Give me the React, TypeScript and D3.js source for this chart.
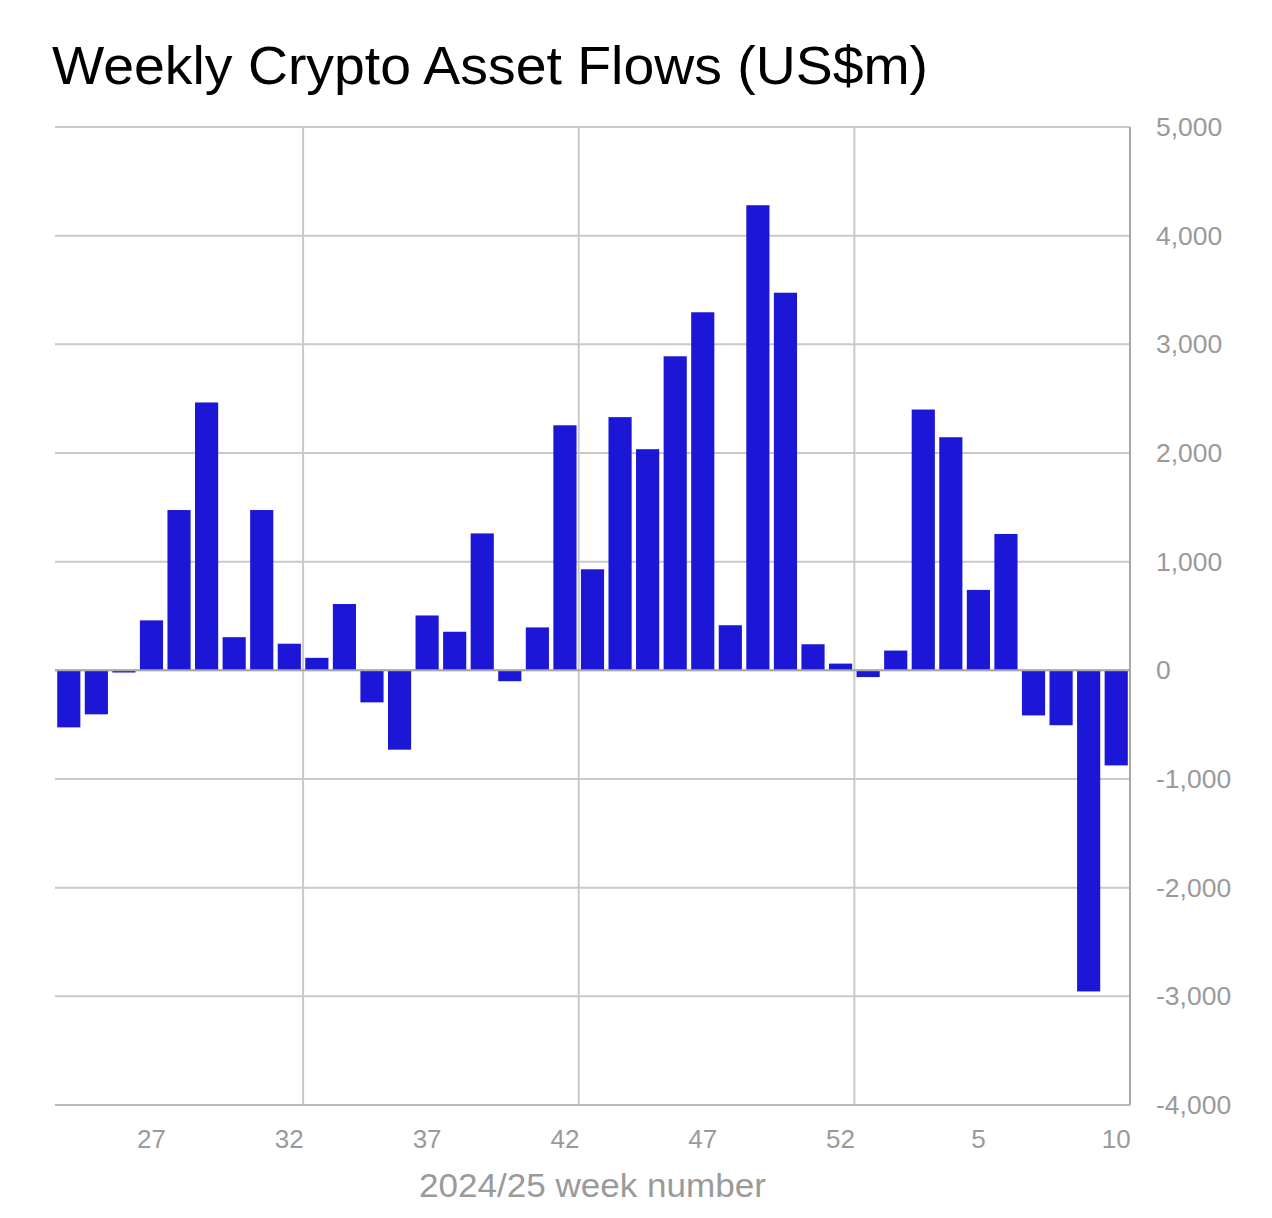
import React from "react";
import * as d3 from "d3";

const weeks: string[] = ["24","25","26","27","28","29","30","31","32","33","34","35","36","37","38","39","40","41","42","43","44","45","46","47","48","49","50","51","52","1","2","3","4","5","6","7","8","9","10"];
const flows: number[] = [-525,-405,-20,460,1475,2465,305,1475,245,115,610,-295,-730,505,355,1260,-100,395,2255,930,2330,2035,2890,3295,415,4280,3475,240,62,-62,182,2400,2145,740,1255,-415,-505,-2955,-875];
const yTicks: number[] = [5000,4000,3000,2000,1000,0,-1000,-2000,-3000,-4000];
const xTickLabels: string[] = ["27","32","37","42","47","52","5","10"];
const vGridAfter: string[] = ["32","42","52","10"];

const W = 1272, H = 1218;
const left = 55, right = 1130, top = 127, bottom = 1105;
const FONT = "'Liberation Sans', Arial, Helvetica, sans-serif";

export default function App() {
  const x = d3.scaleBand<string>().domain(weeks).range([left, right]).paddingInner(0.16).paddingOuter(0.08);
  const y = d3.scaleLinear().domain([-4000, 5000]).range([bottom, top]);
  const step = x.step();
  const fmt = (t: number) => d3.format(",")(t).replace("\u2212", "-");
  const grid = "#c9c9c9";
  const tickCol = "#9a9a9a";
  return (
    <svg width={W} height={H} style={{ position: "absolute", left: 0, top: 0, background: "#fff" }}>
      <rect width={W} height={H} fill="#fff" />
      <text x={52} y={84} fontFamily={FONT} fontSize={53} fill="#000" textLength={876} lengthAdjust="spacingAndGlyphs">Weekly Crypto Asset Flows (US$m)</text>
      {yTicks.map((t) => (
        <line key={"h" + t} x1={left} x2={right} y1={y(t)} y2={y(t)} stroke={grid} strokeWidth={2} />
      ))}
      {vGridAfter.map((w) => {
        const xb = (x(w) as number) + x.bandwidth() + (step - x.bandwidth()) / 2;
        return <line key={"v" + w} x1={xb} x2={xb} y1={top} y2={bottom} stroke={grid} strokeWidth={2} />;
      })}
      {flows.map((v, i) => (
        <rect key={i} x={x(weeks[i])} width={x.bandwidth()} y={y(Math.max(0, v))} height={Math.abs(y(v) - y(0))} fill="#1c16d6" />
      ))}
      <line x1={left} x2={right} y1={y(0)} y2={y(0)} stroke="#a8a8a8" strokeWidth={2} />
      <line x1={right} x2={right} y1={top} y2={bottom} stroke="#a8a8a8" strokeWidth={2} />
      <line x1={left} x2={right} y1={bottom} y2={bottom} stroke="#b8b8b8" strokeWidth={2} />
      {yTicks.map((t) => (
        <text key={"yt" + t} x={1156} y={y(t) + 9} fontFamily={FONT} fontSize={26.5} fill={tickCol}>{fmt(t)}</text>
      ))}
      {xTickLabels.map((w) => (
        <text key={"xt" + w} x={(x(w) as number) + x.bandwidth() / 2} y={1148} textAnchor="middle" fontFamily={FONT} fontSize={26} fill={tickCol}>{w}</text>
      ))}
      <text x={419} y={1197} fontFamily={FONT} fontSize={33} fill={tickCol} textLength={347} lengthAdjust="spacingAndGlyphs">2024/25 week number</text>
    </svg>
  );
}
